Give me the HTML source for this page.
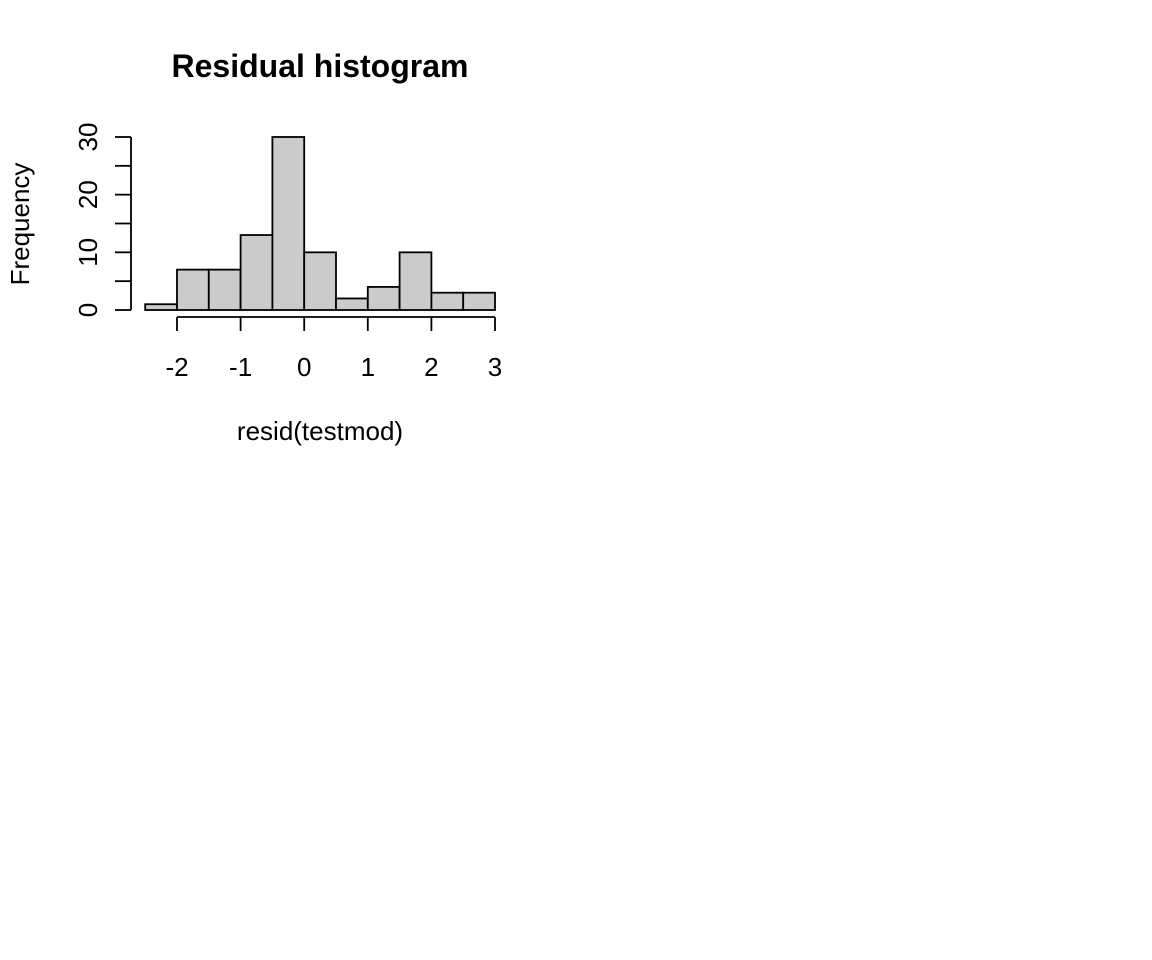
<!DOCTYPE html>
<html><head><meta charset="utf-8"><style>
body{margin:0;background:#fff}
svg{display:block;font-family:"Liberation Sans",Arial,sans-serif}
</style></head><body>
<svg id="chart" width="1152" height="960">
<text x="320" y="77" text-anchor="middle" font-size="32" font-weight="bold">Residual histogram</text>
<text x="320" y="440" text-anchor="middle" font-size="26">resid(testmod)</text>
<text transform="translate(29,224) rotate(-90)" text-anchor="middle" font-size="26">Frequency</text>
<g id="bars"></g><g id="xaxis"></g><g id="yaxis"></g>
</svg>
<script>
const binStarts = [-2.5,-2,-1.5,-1,-0.5,0,0.5,1,1.5,2,2.5];
const counts = [1,7,7,13,30,10,2,4,10,3,3];
const binWidth = 0.5;
const xTicks = [-2,-1,0,1,2,3];
const yTicks = [0,10,20,30];
const yMinor = [5,15,25];
const NS="http://www.w3.org/2000/svg";
const xs=v=>177+(v+2)*63.6;
const ys=v=>310-v*(173/30);
function mk(t,a,p){const e=document.createElementNS(NS,t);for(const k in a)e.setAttribute(k,a[k]);p.appendChild(e);return e;}
const bars=document.getElementById('bars');
binStarts.forEach((b,i)=>{
 const r=mk('rect',{x:xs(b),y:ys(counts[i]),width:xs(b+binWidth)-xs(b),height:ys(0)-ys(counts[i]),fill:'#cbcbcb',stroke:'#000','stroke-width':1.8},bars);
 
 
});
const xa=document.getElementById('xaxis');


mk('line',{x1:xs(xTicks[0]),x2:xs(xTicks[xTicks.length-1]),y1:317,y2:317,stroke:'#000','stroke-width':1.8},xa);
xTicks.forEach(t=>{
 mk('line',{x1:xs(t),x2:xs(t),y1:317,y2:331,stroke:'#000','stroke-width':1.8},xa);
 const tx=mk('text',{x:xs(t),y:376,'text-anchor':'middle','font-size':26},xa);tx.textContent=t;
 
 
});
const ya=document.getElementById('yaxis');


mk('line',{x1:131,x2:131,y1:ys(0),y2:ys(30),stroke:'#000','stroke-width':1.8},ya);
yTicks.concat(yMinor).forEach(t=>mk('line',{x1:115,x2:131,y1:ys(t),y2:ys(t),stroke:'#000','stroke-width':1.8},ya));
yTicks.forEach(t=>{
 const tx=mk('text',{transform:`translate(97,${ys(t)}) rotate(-90)`,'text-anchor':'middle','font-size':26},ya);tx.textContent=t;
 
 
});
</script>
</body></html>
